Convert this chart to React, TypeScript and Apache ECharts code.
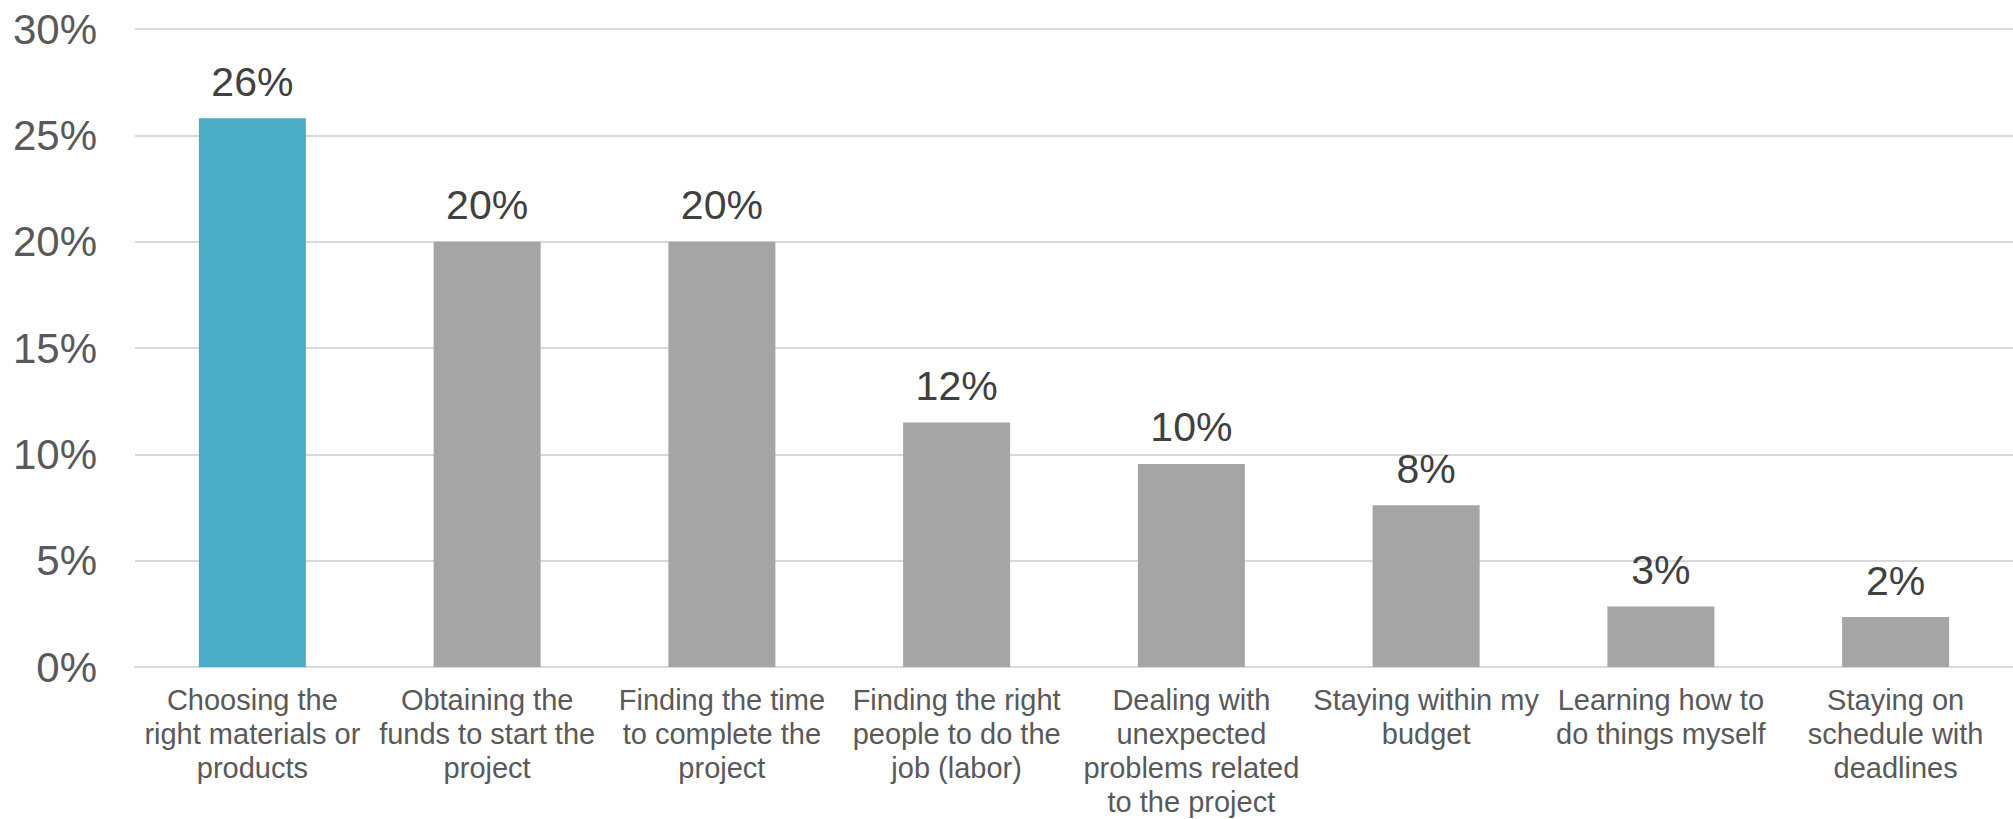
import React, { useEffect, useRef } from "react";
import * as echarts from "echarts";

// Survey: biggest challenges when starting a home project
const categories: string[] = [
  "Choosing the\nright materials or\nproducts",
  "Obtaining the\nfunds to start the\nproject",
  "Finding the time\nto complete the\nproject",
  "Finding the right\npeople to do the\njob (labor)",
  "Dealing with\nunexpected\nproblems related\nto the project",
  "Staying within my\nbudget",
  "Learning how to\ndo things myself",
  "Staying on\nschedule with\ndeadlines",
];

// Share of respondents, in percent
const shares: number[] = [25.8, 20, 20, 11.5, 9.55, 7.6, 2.85, 2.35];

// Index of the highlighted answer
const highlightIndex = 0;

const yMin = 0;
const yMax = 30;
const yStep = 5;

const FONT = '"Liberation Sans", Arial, Helvetica, sans-serif';
const HIGHLIGHT = "#4BACC6";
const NEUTRAL = "#A5A5A5";

export default function App() {
  const ref = useRef<HTMLDivElement>(null);

  useEffect(() => {
    document.body.style.margin = "0";
    if (!ref.current) return;
    const chart = echarts.init(ref.current, undefined, { renderer: "svg" });
    chart.setOption({
      animation: false,
      backgroundColor: "#ffffff",
      grid: { left: 135, right: 0, top: 29, bottom: 151, containLabel: false },
      xAxis: {
        type: "category",
        data: categories,
        axisLine: { show: true, lineStyle: { color: "#D9D9D9", width: 2 } },
        axisTick: { show: false },
        axisLabel: {
          interval: 0,
          color: "#595959",
          fontFamily: FONT,
          fontSize: 29,
          lineHeight: 34,
          margin: 16,
          align: "center",
          verticalAlign: "top",
        },
      },
      yAxis: {
        type: "value",
        min: yMin,
        max: yMax,
        interval: yStep,
        axisLine: { show: false },
        axisTick: { show: false },
        splitLine: { show: true, lineStyle: { color: "#D9D9D9", width: 2 } },
        axisLabel: {
          formatter: "{value}%",
          color: "#595959",
          fontFamily: FONT,
          fontSize: 42,
          margin: 38,
        },
      },
      series: [
        {
          type: "bar",
          barWidth: 107,
          data: shares.map((v, i) => ({
            value: v,
            itemStyle: { color: i === highlightIndex ? HIGHLIGHT : NEUTRAL },
          })),
          label: {
            show: true,
            position: "top",
            distance: 16,
            color: "#404040",
            fontFamily: FONT,
            fontSize: 41,
            formatter: (p: any) => `${Math.round(p.value)}%`,
          },
        },
      ],
    });
    return () => chart.dispose();
  }, []);

  return <div ref={ref} style={{ width: 2013, height: 819 }} />;
}
